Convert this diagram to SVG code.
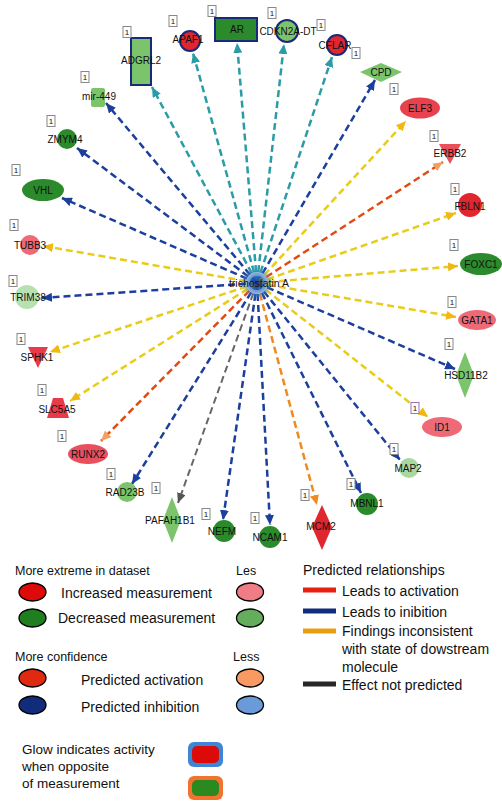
<svg xmlns="http://www.w3.org/2000/svg" width="502" height="801" viewBox="0 0 502 801">
<style>
text{font-family:"Liberation Sans",Arial,sans-serif;fill:#111}
.lbl{font-size:10px;text-anchor:middle}
.bx rect{fill:#fff;stroke:#888;stroke-width:1}
.bx text{font-size:8px;text-anchor:middle}
.e{fill:none;stroke-width:2.5;stroke-dasharray:7 4}
.teal{stroke:#2a9ca6}
.blue{stroke:#1c3f9e}
.yel{stroke:#e8cc18}
.ored{stroke:#e24a12}
.orng{stroke:#f08a20}
.gray{stroke:#666;stroke-width:2}
.dg{fill:#2b8a2b}
.lg{fill:#7cc46c}
.vlg{fill:#b8e0b0}
.rd{fill:#e0262e}
.pk{fill:#ee6a76}
.nav{stroke:#1a2a7a;stroke-width:2}
.leg{font-size:14px}
.sm{font-size:12.5px}
.le{stroke:#000;stroke-width:1.3}
</style>
<defs>
<radialGradient id="glow"><stop offset="0" stop-color="#1a3f9e" stop-opacity="0.9"/><stop offset="0.6" stop-color="#2a70c0" stop-opacity="0.6"/><stop offset="1" stop-color="#60b0e0" stop-opacity="0"/></radialGradient>
<marker id="mt" markerUnits="userSpaceOnUse" markerWidth="10" markerHeight="9" refX="10" refY="4.5" orient="auto"><path d="M0,0L10,4.5L0,9z" fill="#2a9ca6"/></marker>
<marker id="mb" markerUnits="userSpaceOnUse" markerWidth="10" markerHeight="9" refX="10" refY="4.5" orient="auto"><path d="M0,0L10,4.5L0,9z" fill="#1c3f9e"/></marker>
<marker id="my" markerUnits="userSpaceOnUse" markerWidth="10" markerHeight="9" refX="10" refY="4.5" orient="auto"><path d="M0,0L10,4.5L0,9z" fill="#f0b810"/></marker>
<marker id="mo" markerUnits="userSpaceOnUse" markerWidth="10" markerHeight="9" refX="10" refY="4.5" orient="auto"><path d="M0,0L10,4.5L0,9z" fill="#f08a20"/></marker>
<marker id="mr" markerUnits="userSpaceOnUse" markerWidth="10" markerHeight="9" refX="10" refY="4.5" orient="auto"><path d="M0,0L10,4.5L0,9z" fill="#f0a060"/></marker>
<marker id="mg" markerUnits="userSpaceOnUse" markerWidth="10" markerHeight="9" refX="10" refY="4.5" orient="auto"><path d="M0,0L10,4.5L0,9z" fill="#555"/></marker>
</defs>
<rect width="502" height="801" fill="#fff"/>

<g id="connectors">
<line class="e teal" x1="257" y1="283" x2="152" y2="87" marker-end="url(#mt)"/>
<line class="e teal" x1="257" y1="283" x2="193" y2="53" marker-end="url(#mt)"/>
<line class="e teal" x1="257" y1="283" x2="237" y2="43" marker-end="url(#mt)"/>
<line class="e teal" x1="257" y1="283" x2="284" y2="44" marker-end="url(#mt)"/>
<line class="e teal" x1="257" y1="283" x2="332" y2="57" marker-end="url(#mt)"/>
<line class="e blue" x1="257" y1="283" x2="375" y2="80" marker-end="url(#mb)"/>
<line class="e yel" x1="257" y1="283" x2="406" y2="121" marker-end="url(#my)"/>
<line class="e ored" x1="257" y1="283" x2="443" y2="162" marker-end="url(#mr)"/>
<line class="e yel" x1="257" y1="283" x2="456" y2="213" marker-end="url(#my)"/>
<line class="e yel" x1="257" y1="283" x2="458" y2="266" marker-end="url(#my)"/>
<line class="e yel" x1="257" y1="283" x2="456" y2="317" marker-end="url(#my)"/>
<line class="e blue" x1="257" y1="283" x2="455" y2="369" marker-end="url(#mb)"/>
<line class="e yel" x1="257" y1="283" x2="428" y2="417" marker-end="url(#my)"/>
<line class="e blue" x1="257" y1="283" x2="400" y2="460" marker-end="url(#mb)"/>
<line class="e blue" x1="257" y1="283" x2="361" y2="493" marker-end="url(#mb)"/>
<line class="e orng" x1="257" y1="283" x2="317" y2="505" marker-end="url(#mo)"/>
<line class="e blue" x1="257" y1="283" x2="270" y2="525" marker-end="url(#mb)"/>
<line class="e blue" x1="257" y1="283" x2="223" y2="520" marker-end="url(#mb)"/>
<line class="e gray" x1="257" y1="283" x2="178" y2="503" marker-end="url(#mg)"/>
<line class="e blue" x1="257" y1="283" x2="132" y2="484" marker-end="url(#mb)"/>
<line class="e ored" x1="257" y1="283" x2="101" y2="441" marker-end="url(#mr)"/>
<line class="e yel" x1="257" y1="283" x2="70" y2="401" marker-end="url(#my)"/>
<line class="e yel" x1="257" y1="283" x2="50" y2="352" marker-end="url(#my)"/>
<line class="e blue" x1="257" y1="283" x2="42" y2="298" marker-end="url(#mb)"/>
<line class="e yel" x1="257" y1="283" x2="43" y2="246" marker-end="url(#my)"/>
<line class="e blue" x1="257" y1="283" x2="62" y2="198" marker-end="url(#mb)"/>
<line class="e blue" x1="257" y1="283" x2="77" y2="148" marker-end="url(#mb)"/>
<line class="e blue" x1="257" y1="283" x2="106" y2="103" marker-end="url(#mb)"/>
</g>

<g id="trichostatin-A">
<circle cx="257" cy="283" r="16" fill="url(#glow)"/>
<text class="lbl" x="259" y="287" style="font-size:10.5px">trichostatin A</text>
</g>

<g id="ADGRL2"><rect x="131" y="38" width="20" height="47" class="lg nav"/><text class="lbl" x="141" y="64">ADGRL2</text><g class="bx"><rect x="123" y="26.5" width="8" height="11"/><text x="127" y="35">1</text></g></g>
<g id="APAF1"><circle cx="190" cy="41" r="10" class="rd nav"/><text class="lbl" x="188" y="43">APAF1</text><g class="bx"><rect x="169" y="15.5" width="8" height="11"/><text x="173" y="24">1</text></g></g>
<g id="AR"><rect x="215" y="18" width="42" height="23" class="dg nav"/><text class="lbl" x="237" y="33">AR</text><g class="bx"><rect x="208" y="5.5" width="8" height="11"/><text x="212" y="14">1</text></g></g>
<g id="CDKN2A-DT"><circle cx="287" cy="31" r="11" class="lg nav"/><text class="lbl" x="288" y="35">CDKN2A-DT</text><g class="bx"><rect x="268" y="7.5" width="8" height="11"/><text x="272" y="16">1</text></g><g class="bx"><rect x="317" y="19.5" width="8" height="11"/><text x="321" y="28">1</text></g></g>
<g id="CFLAR"><circle cx="337" cy="45" r="10" class="rd nav"/><text class="lbl" x="335" y="49">CFLAR</text><g class="bx"><rect x="352" y="47.5" width="8" height="11"/><text x="356" y="56">1</text></g></g>
<g id="CPD"><polygon points="360,72 381,63 402,72 381,82" class="lg"/><text class="lbl" x="381" y="76">CPD</text><g class="bx"><rect x="390" y="83.5" width="8" height="11"/><text x="394" y="92">1</text></g></g>
<g id="ELF3"><ellipse cx="420" cy="108" rx="20" ry="10.5" class="pk" style="fill:#e8424e"/><text class="lbl" x="420" y="112">ELF3</text></g>
<g id="ERBB2"><polygon points="439,144 461,144 450,164" class="rd" style="fill:#e8505a"/><text class="lbl" x="450" y="157">ERBB2</text><g class="bx"><rect x="430" y="130.5" width="8" height="11"/><text x="434" y="139">1</text></g></g>
<g id="FBLN1"><circle cx="470" cy="205" r="12" class="rd"/><text class="lbl" x="470" y="210">FBLN1</text><g class="bx"><rect x="451" y="183.5" width="8" height="11"/><text x="455" y="192">1</text></g></g>
<g id="FOXC1"><ellipse cx="481" cy="264" rx="21" ry="11" class="dg"/><text class="lbl" x="481" y="268">FOXC1</text><g class="bx"><rect x="450" y="239.5" width="8" height="11"/><text x="454" y="248">1</text></g></g>
<g id="GATA1"><ellipse cx="477" cy="320" rx="19" ry="10" class="pk"/><text class="lbl" x="477" y="324">GATA1</text><g class="bx"><rect x="448" y="296.5" width="8" height="11"/><text x="452" y="305">1</text></g></g>
<g id="HSD11B2"><polygon points="465,352 474,375 465,398 456,375" class="lg"/><text class="lbl" x="466" y="379">HSD11B2</text><g class="bx"><rect x="445" y="338.5" width="8" height="11"/><text x="449" y="347">1</text></g></g>
<g id="ID1"><ellipse cx="442" cy="427" rx="20" ry="10" class="pk"/><text class="lbl" x="442" y="431">ID1</text><g class="bx"><rect x="411" y="402.5" width="8" height="11" style="stroke:#a070b0"/><text x="415" y="411">1</text></g></g>
<g id="MAP2"><circle cx="409" cy="468" r="10" class="vlg" style="fill:#a8d8a0"/><text class="lbl" x="408" y="472">MAP2</text><g class="bx"><rect x="390" y="443.5" width="8" height="11"/><text x="394" y="452">1</text></g></g>
<g id="MBNL1"><circle cx="367" cy="504" r="11" class="dg"/><text class="lbl" x="367" y="507">MBNL1</text><g class="bx"><rect x="347" y="478.5" width="8" height="11"/><text x="351" y="487">1</text></g></g>
<g id="MCM2"><polygon points="322,505 332,527 322,550 312,527" class="rd"/><text class="lbl" x="321" y="530">MCM2</text><g class="bx"><rect x="301" y="489.5" width="8" height="11"/><text x="305" y="498">1</text></g></g>
<g id="NCAM1"><circle cx="270" cy="537" r="11" class="dg"/><text class="lbl" x="270" y="541">NCAM1</text><g class="bx"><rect x="251" y="512.5" width="8" height="11"/><text x="255" y="521">1</text></g></g>
<g id="NEFM"><circle cx="224" cy="531" r="11" class="dg"/><text class="lbl" x="222" y="535">NEFM</text><g class="bx"><rect x="202" y="508.5" width="8" height="11"/><text x="206" y="517">1</text></g></g>
<g id="PAFAH1B1"><polygon points="172,497 181,520 172,543 163,520" class="lg"/><text class="lbl" x="170" y="524">PAFAH1B1</text><g class="bx"><rect x="152" y="482.5" width="8" height="11"/><text x="156" y="491">1</text></g></g>
<g id="RAD23B"><circle cx="127" cy="492" r="10" class="lg"/><text class="lbl" x="125" y="496">RAD23B</text><g class="bx"><rect x="107" y="468.5" width="8" height="11"/><text x="111" y="477">1</text></g></g>
<g id="RUNX2"><ellipse cx="88" cy="454" rx="20" ry="10" class="pk" style="fill:#e8505e"/><text class="lbl" x="88" y="458">RUNX2</text><g class="bx"><rect x="58" y="430.5" width="8" height="11"/><text x="62" y="439">1</text></g></g>
<g id="SLC5A5"><polygon points="53,398 63,398 69,418 47,418" class="rd" style="fill:#e83a48"/><text class="lbl" x="57" y="413">SLC5A5</text><g class="bx"><rect x="38" y="384.5" width="8" height="11"/><text x="42" y="393">1</text></g></g>
<g id="SPHK1"><polygon points="28,347 48,347 38,368" class="rd" style="fill:#e83a48"/><text class="lbl" x="37" y="361">SPHK1</text><g class="bx"><rect x="17" y="333.5" width="8" height="11"/><text x="21" y="342">1</text></g></g>
<g id="TRIM38"><circle cx="27" cy="297" r="12" class="vlg"/><text class="lbl" x="28" y="301">TRIM38</text><g class="bx"><rect x="9" y="275.5" width="8" height="11"/><text x="13" y="284">1</text></g></g>
<g id="TUBB3"><circle cx="30" cy="245" r="10" class="pk"/><text class="lbl" x="30" y="249">TUBB3</text><g class="bx"><rect x="10" y="219.5" width="8" height="11"/><text x="14" y="228">1</text></g></g>
<g id="VHL"><ellipse cx="43" cy="190" rx="21" ry="11" class="dg"/><text class="lbl" x="43" y="194">VHL</text><g class="bx"><rect x="12" y="164.5" width="8" height="11"/><text x="16" y="173">1</text></g></g>
<g id="ZMYM4"><circle cx="67" cy="139" r="10" class="dg"/><text class="lbl" x="65" y="143">ZMYM4</text><g class="bx"><rect x="47" y="115.5" width="8" height="11"/><text x="51" y="124">1</text></g></g>
<g id="mir-449"><rect x="91" y="88" width="14" height="19" rx="2" class="lg"/><text class="lbl" x="99" y="100">mir-449</text><g class="bx"><rect x="81" y="71.5" width="8" height="11"/><text x="85" y="80">1</text></g></g>

<g id="legend">
<text class="sm" x="15" y="575">More extreme in dataset</text>
<ellipse cx="32.5" cy="592" rx="13.5" ry="9" fill="#dd0a0a" class="le"/>
<text class="leg" x="61" y="598">Increased measurement</text>
<ellipse cx="32.5" cy="618" rx="13.5" ry="9" fill="#1f7f1f" class="le"/>
<text class="leg" x="58" y="623">Decreased measurement</text>
<text class="sm" x="236" y="575">Les</text>
<ellipse cx="250" cy="592" rx="13.5" ry="9" fill="#f07d86" class="le"/>
<ellipse cx="250" cy="618" rx="13.5" ry="9" fill="#63ad5c" class="le"/>
<text class="sm" x="15" y="661">More confidence</text>
<ellipse cx="32.5" cy="678" rx="13.5" ry="9" fill="#e02a10" class="le"/>
<text class="leg" x="81" y="685">Predicted activation</text>
<ellipse cx="32.5" cy="705" rx="13.5" ry="9" fill="#122c7c" class="le"/>
<text class="leg" x="81" y="712">Predicted inhibition</text>
<text class="sm" x="233" y="661">Less</text>
<ellipse cx="250" cy="678" rx="13.5" ry="9" fill="#f89a62" class="le"/>
<ellipse cx="250" cy="705" rx="13.5" ry="9" fill="#6a9ad8" class="le"/>
<text class="leg" x="22" y="754" style="font-size:13.5px">Glow indicates activity</text>
<text class="leg" x="22" y="771" style="font-size:13.5px">when opposite</text>
<text class="leg" x="22" y="788" style="font-size:13.5px">of measurement</text>
<rect x="188" y="742" width="35" height="25" rx="6" fill="#3d86d6"/>
<rect x="192" y="746" width="27" height="17" rx="5" fill="#dd0a0a"/>
<rect x="188" y="776" width="35" height="24" rx="6" fill="#f27330"/>
<rect x="192" y="780" width="27" height="16" rx="5" fill="#2a8a20"/>
<text class="leg" x="303" y="575">Predicted relationships</text>
<line x1="303" y1="590" x2="336" y2="590" stroke="#e82010" stroke-width="5"/>
<text class="leg" x="342" y="596">Leads to activation</text>
<line x1="303" y1="611" x2="336" y2="611" stroke="#122c7c" stroke-width="5"/>
<text class="leg" x="342" y="617">Leads to inibition</text>
<line x1="303" y1="631" x2="336" y2="631" stroke="#e8a010" stroke-width="5"/>
<text class="leg" x="342" y="636">Findings inconsistent</text>
<text class="leg" x="342" y="654">with state of dowstream</text>
<text class="leg" x="342" y="672">molecule</text>
<line x1="303" y1="684" x2="336" y2="684" stroke="#282828" stroke-width="5"/>
<text class="leg" x="342" y="690">Effect not predicted</text>
</g>
</svg>
